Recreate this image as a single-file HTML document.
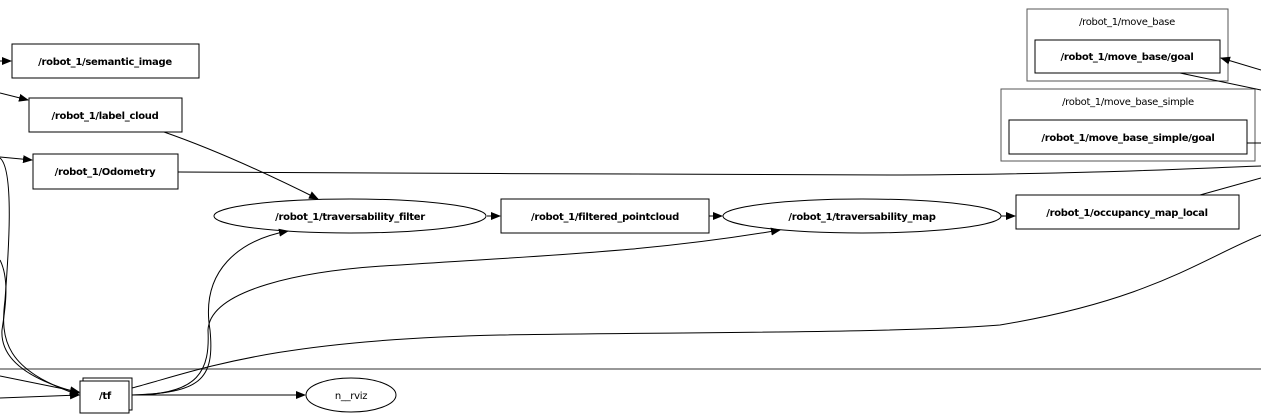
<!DOCTYPE html>
<html><head><style>body{margin:0;background:#fff}svg{display:block}text{font-family:"DejaVu Sans","Liberation Sans",sans-serif;font-size:10px;font-weight:bold;text-anchor:middle;letter-spacing:-0.3px}</style></head><body>
<svg width="1261" height="417" viewBox="0 0 1261 417" xmlns="http://www.w3.org/2000/svg">
<defs><marker id="a" markerWidth="10" markerHeight="8" refX="9" refY="4" orient="auto" markerUnits="userSpaceOnUse"><path d="M0,0L10,4L0,8z" fill="#000"/></marker></defs>
<g fill="none" stroke="#000" stroke-width="1">
<!-- clusters -->
<rect x="1027" y="9" width="201" height="72" stroke="#555"/>
<rect x="1001" y="89" width="254" height="72" stroke="#555"/>
<line x1="0" y1="369" x2="1261" y2="369" stroke="#777" stroke-width="1.5"/>
<!-- nodes -->
<rect x="12" y="44" width="187" height="34"/>
<rect x="29" y="98" width="153" height="34"/>
<rect x="33" y="154" width="145" height="35"/>
<ellipse cx="350" cy="216" rx="136" ry="17"/>
<rect x="501" y="199" width="208" height="34"/>
<ellipse cx="862" cy="216" rx="139" ry="17"/>
<rect x="1016" y="195" width="223" height="34"/>
<rect x="1035" y="40" width="185" height="33"/>
<rect x="1009" y="120" width="238" height="34"/>
<rect x="83" y="378" width="49" height="32"/>
<rect x="80" y="381" width="49" height="32" fill="#fff"/>
<ellipse cx="351" cy="395" rx="45" ry="17"/>
<!-- edges -->
<path d="M0,61L11,61" marker-end="url(#a)"/>
<path d="M0,93L28,100" marker-end="url(#a)"/>
<path d="M0,157L32,160" marker-end="url(#a)"/>
<path d="M164,132C210,148 260,170 318,199" marker-end="url(#a)"/>
<path d="M178,172C400,172 700,176 900,175C1100,174 1200,168 1261,166"/>
<path d="M487,216L500,216" marker-end="url(#a)"/>
<path d="M709,216L722,216" marker-end="url(#a)"/>
<path d="M1001,216L1015,216" marker-end="url(#a)"/>
<path d="M1200,195L1261,178"/>
<path d="M1261,70L1221,58" marker-end="url(#a)"/>
<path d="M1180,73L1261,90"/>
<path d="M1247,143L1261,143"/>
<path d="M0,158C15,170 8,260 5,300C0,340 5,370 79,395" marker-end="url(#a)"/>
<path d="M0,260C10,280 5,310 2,330C0,360 30,380 79,393" marker-end="url(#a)"/>
<path d="M0,376L79,392" marker-end="url(#a)"/>
<path d="M0,398L79,395" marker-end="url(#a)"/>
<path d="M132,395C200,393 215,380 210,330C200,270 240,240 288,231" marker-end="url(#a)"/>
<path d="M132,395C200,395 210,370 208,330C210,290 300,270 400,265C550,255 650,252 780,230" marker-end="url(#a)"/>
<path d="M132,388C200,370 270,340 500,335C700,332 900,333 1000,325C1150,300 1200,260 1261,235"/>
<path d="M132,395L305,395" marker-end="url(#a)"/>
</g>
<g fill="#000">
<text x="105" y="65">/robot_1/semantic_image</text>
<text x="105" y="119">/robot_1/label_cloud</text>
<text x="105" y="175">/robot_1/Odometry</text>
<text x="350" y="220">/robot_1/traversability_filter</text>
<text x="605" y="220">/robot_1/filtered_pointcloud</text>
<text x="862" y="220">/robot_1/traversability_map</text>
<text x="1127" y="216">/robot_1/occupancy_map_local</text>
<text x="1127" y="60">/robot_1/move_base/goal</text>
<text x="1128" y="141">/robot_1/move_base_simple/goal</text>
<text x="1127" y="25" font-weight="normal" style="font-weight:normal">/robot_1/move_base</text>
<text x="1128" y="105" style="font-weight:normal">/robot_1/move_base_simple</text>
<text x="105" y="399">/tf</text>
<text x="351" y="399" style="font-weight:normal">n__rviz</text>
</g>
</svg>
</body></html>
